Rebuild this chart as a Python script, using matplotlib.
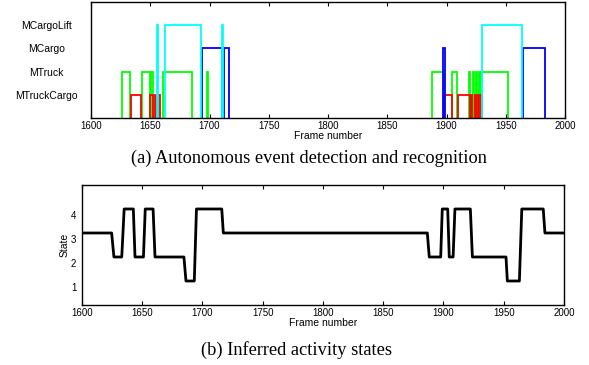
import numpy as np
import matplotlib
matplotlib.use('Agg')
import matplotlib.pyplot as plt

plt.rcParams['font.family'] = ['Liberation Sans', 'DejaVu Sans']

# event detections: (start frame, end frame) intervals
event_names = ['MTruckCargo', 'MTruck', 'MCargo', 'MCargoLift']
event_levels = [1, 2, 3, 4]
event_colors = ['red', '#00ff00', 'blue', 'cyan']

truckcargo_iv = [(1633.8, 1642), (1650, 1652.5), (1654, 1655), (1656.5, 1658.5),
                 (1898.1, 1904.4), (1909.4, 1919.8), (1920.6, 1921.6),
                 (1923.8, 1924.6), (1926.2, 1927.2), (1929, 1930.3)]
truck_iv = [(1626, 1633), (1643, 1649.5), (1651, 1652.5), (1660.4, 1685),
            (1697.6, 1699), (1887.5, 1898), (1904.4, 1908.6), (1919.2, 1920.2),
            (1922.6, 1923.5), (1925, 1925.8), (1927.5, 1928.3), (1929.1, 1952.2)]
cargo_iv = [(1693.3, 1710.2), (1712.5, 1716.5), (1897.3, 1898.7), (1964.3, 1983.4)]
cargolift_iv = [(1655.4, 1656.8), (1662.7, 1693), (1710.2, 1711.6), (1929.7, 1964)]
event_ivs = [truckcargo_iv, truck_iv, cargo_iv, cargolift_iv]

# inferred state trace breakpoints (frame, state)
state_frames = [1600, 1624.6, 1626.5, 1633, 1635, 1642.6, 1644, 1651, 1652.5, 1659,
                1660.6, 1684.6, 1686.3, 1693.2, 1695, 1716, 1717.3,
                1886.6, 1888.2, 1897.7, 1899, 1903.5, 1904.8, 1908, 1909.5,
                1922.3, 1924, 1951.9, 1953, 1963, 1965, 1982.8, 1984.2, 2000]
state_values = [3, 3, 2, 2, 4, 4, 2, 2, 4, 4,
                2, 2, 1, 1, 4, 4, 3,
                3, 2, 2, 4, 4, 2, 2, 4,
                4, 2, 2, 1, 1, 4, 4, 3, 3]

fig = plt.figure(figsize=(5.89, 3.65), dpi=100)

# ---- top panel ----
ax1 = fig.add_axes([0.1545, 0.6767, 0.8048, 0.3178])
draw_order = [1, 0, 2, 3]  # green under red, then blue and cyan
for k in draw_order:
    xs, ys = [], []
    for s, e in event_ivs[k]:
        xs += [s, s, e, e, np.nan]
        ys += [0, event_levels[k], event_levels[k], 0, np.nan]
    ax1.plot(xs, ys, color=event_colors[k], lw=1.3, solid_joinstyle='miter')
ax1.set_xlim(1600, 2000)
ax1.set_ylim(0, 5)
ax1.set_yticks(event_levels)
ax1.set_yticklabels(event_names, fontsize=7.5, ha='center')
ax1.tick_params(axis='y', length=0, pad=32)
ax1.set_xticks(np.arange(1600, 2001, 50))
ax1.tick_params(axis='x', direction='in', top=True, labelsize=7, length=3, pad=2)
ax1.set_xlabel('Frame number', fontsize=7.5, labelpad=0)
for sp in ax1.spines.values():
    sp.set_linewidth(1.0)
    sp.set_zorder(3)

# ---- bottom panel ----
ax2 = fig.add_axes([0.1392, 0.1644, 0.8183, 0.3288])
ax2.plot(state_frames, np.array(state_values) + 0.25, color='black', lw=2)
ax2.set_xlim(1600, 2000)
ax2.set_ylim(0.25, 5.25)
ax2.set_yticks([1, 2, 3, 4])
ax2.set_xticks(np.arange(1600, 2001, 50))
ax2.tick_params(axis='x', direction='in', top=True, labelsize=7, length=3, pad=2)
ax2.tick_params(axis='y', length=0, labelsize=7, pad=4)
ax2.set_xlabel('Frame number', fontsize=7.5, labelpad=0)
ax2.set_ylabel('State', fontsize=7.5, labelpad=1)
for sp in ax2.spines.values():
    sp.set_linewidth(1.0)

fig.text(0.524, 1 - 158 / 365, '(a) Autonomous event detection and recognition',
         family='Liberation Serif', fontsize=13.2, ha='center', va='center')
fig.text(0.504, 1 - 350 / 365, '(b) Inferred activity states',
         family='Liberation Serif', fontsize=13.2, ha='center', va='center')

fig.savefig('out.png', dpi=100)
